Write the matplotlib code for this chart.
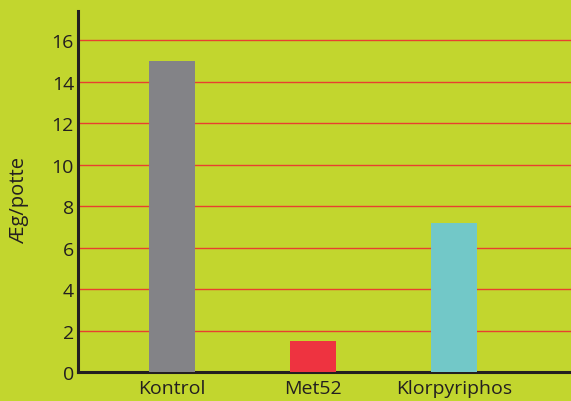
import matplotlib
matplotlib.use("Agg")
import matplotlib.pyplot as plt

categories = ["Kontrol", "Met52", "Klorpyriphos"]
values = [15.0, 1.5, 7.2]
bar_colors = ["#838387", "#ee3340", "#72c8c8"]
yticks = [0, 2, 4, 6, 8, 10, 12, 14, 16]

BG = "#c2d62e"

plt.rcParams["font.family"] = ["Open Sans", "DejaVu Sans"]

fig = plt.figure(figsize=(5.71, 4.02), dpi=100, facecolor=BG)
ax = fig.add_axes([0.137, 0.071, 0.863, 0.899], facecolor=BG)

x = list(range(len(categories)))
ax.bar(x, values, width=0.33, color=bar_colors, zorder=3)

ax.set_xlim(-0.667, 2.83)
ax.set_ylim(0, 17.4)
ax.set_yticks(yticks)
ax.set_xticks(x)
ax.set_xticklabels(categories)
ax.yaxis.grid(True, color="#e8402f", linewidth=1.0, zorder=1)
ax.set_axisbelow(True)

ax.tick_params(axis="both", length=0, labelsize=14, colors="#231f20")
ax.tick_params(axis="y", pad=3)
ax.tick_params(axis="x", pad=5)
ax.set_ylabel("Æg/potte", fontsize=14.5, color="#231f20")
ax.yaxis.set_label_coords(-0.099, 0.48)

for side in ("top", "right"):
    ax.spines[side].set_visible(False)
for side in ("left", "bottom"):
    ax.spines[side].set_color("#231f20")
    ax.spines[side].set_linewidth(2.2)

fig.savefig("out.png", dpi=100, facecolor=BG)
